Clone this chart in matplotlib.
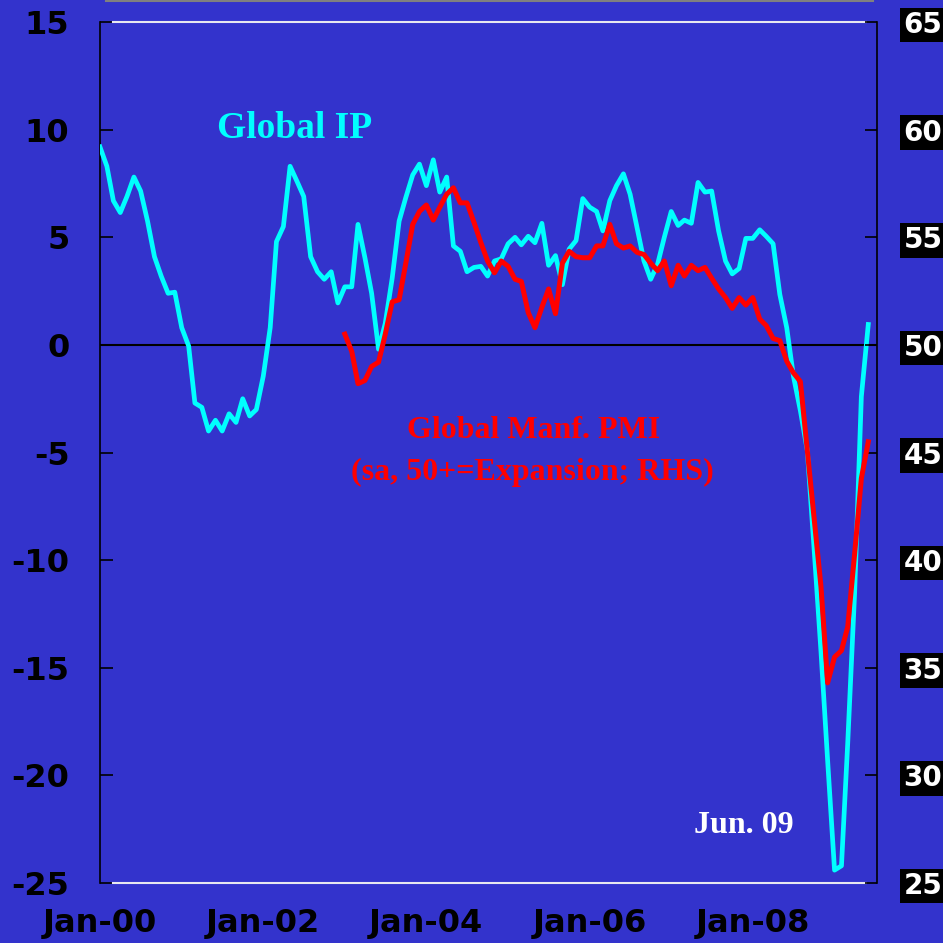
import numpy as np
import pandas as pd
import matplotlib
matplotlib.use('Agg')
import matplotlib.pyplot as plt
import matplotlib.dates as mdates
from matplotlib.lines import Line2D

plt.rcParams['axes.unicode_minus'] = False

# monthly, Jan-2000 .. Jun-2009
months = pd.date_range('2000-01-01', '2009-06-01', freq='MS')

# global industrial production, %oya (LHS)
global_ip = [9.2, 8.3, 6.7, 6.15, 6.9, 7.8, 7.15, 5.75, 4.1, 3.2, 2.4, 2.45,
             0.8, -0.05, -2.7, -2.9, -4.0, -3.5, -4.0, -3.2, -3.6, -2.5, -3.3, -3.0,
             -1.45, 0.8, 4.8, 5.5, 8.3, 7.6, 6.9, 4.1, 3.4, 3.05, 3.4, 1.95,
             2.7, 2.7, 5.6, 4.05, 2.4, -0.2, 1.0, 3.1, 5.75, 6.85, 7.9, 8.4,
             7.4, 8.6, 7.1, 7.8, 4.6, 4.35, 3.4, 3.6, 3.65, 3.2, 3.9, 4.0,
             4.7, 5.0, 4.65, 5.05, 4.75, 5.65, 3.7, 4.15, 2.8, 4.45, 4.85, 6.8,
             6.4, 6.2, 5.3, 6.7, 7.4, 7.95, 7.0, 5.45, 3.9, 3.05, 3.75, 5.0,
             6.2, 5.55, 5.8, 5.65, 7.55, 7.1, 7.15, 5.3, 3.9, 3.3, 3.55, 4.95,
             4.95, 5.35, 5.05, 4.7, 2.35, 0.8, -1.45, -3.05, -4.9, -9.4, -14.2, -19.3,
             -24.4, -24.2, -18.5, -11.5, -2.4, 0.95]

# global manufacturing PMI, sa (RHS), from Jan-2003
pmi_months = pd.date_range('2003-01-01', '2009-06-01', freq='MS')
global_pmi = [50.5, 49.7, 48.2, 48.35, 49.0, 49.2, 50.5, 52.0, 52.1, 53.8, 55.6, 56.2,
              56.5, 55.8, 56.4, 57.0, 57.3, 56.6, 56.6, 55.7, 54.75, 53.9, 53.35, 53.9,
              53.65, 53.05, 52.95, 51.5, 50.8, 51.75, 52.6, 51.45, 53.8, 54.35, 54.1, 54.05,
              54.05, 54.6, 54.6, 55.6, 54.7, 54.5, 54.6, 54.3, 54.2, 53.8, 53.45, 53.9,
              52.75, 53.7, 53.2, 53.7, 53.45, 53.6, 53.1, 52.6, 52.2, 51.7, 52.2, 51.85,
              52.2, 51.2, 50.9, 50.3, 50.2, 49.25, 48.7, 48.3, 45.1, 42.0, 38.8, 34.3,
              35.5, 35.8, 36.9, 40.3, 43.8, 45.5]

left_ticks = [-25, -20, -15, -10, -5, 0, 5, 10, 15]
right_ticks = [25, 30, 35, 40, 45, 50, 55, 60, 65]
x_ticks = pd.to_datetime(['2000-01-01', '2002-01-01', '2004-01-01', '2006-01-01', '2008-01-01'])

bg = '#3333cc'

fig = plt.figure(figsize=(9.43, 9.43), dpi=100, facecolor=bg)
ax = fig.add_axes([0.106, 0.0636, 0.824, 0.913])
ax.set_facecolor(bg)

ax.axhline(0, color='black', lw=1.5, zorder=1)
ax.plot(months, global_ip, color='#00ffff', lw=3.4, zorder=3)

ax.set_xlim(months[0], pd.Timestamp('2009-07-10'))
ax.set_ylim(-25, 15)
ax.set_yticks(left_ticks)
ax.set_xticks(x_ticks)
ax.xaxis.set_major_formatter(mdates.DateFormatter('%b-%y'))

ax.tick_params(axis='y', direction='in', length=9, width=1.2, color='black',
               labelsize=23, pad=22)
ax.tick_params(axis='x', length=0, labelsize=23, pad=18)
for lab in ax.get_yticklabels() + ax.get_xticklabels():
    lab.set_fontweight('bold')
    lab.set_color('black')

for s in ['top', 'bottom', 'right']:
    ax.spines[s].set_visible(False)
ax.spines['left'].set_color('black')
ax.spines['left'].set_linewidth(1.2)

# white frame lines top and bottom
ax.axhline(15, xmin=0.017, xmax=0.986, color='#e8e8f0', lw=1.5, clip_on=False)
ax.axhline(-25, xmin=0.017, xmax=0.986, color='#e8e8f0', lw=1.5, clip_on=False)

ax2 = ax.twinx()
ax2.plot(pmi_months, global_pmi, color='#ff0000', lw=3.6, zorder=4)
ax2.set_ylim(25, 65)
ax2.set_yticks(right_ticks)
ax2.tick_params(axis='y', direction='in', length=9, width=1.2, color='black',
                labelsize=20, pad=19, labelcolor='white')
for lab in ax2.get_yticklabels():
    lab.set_fontweight('bold')
    lab.set_bbox(dict(facecolor='black', edgecolor='none', boxstyle='square,pad=0.12'))
for s in ['top', 'bottom', 'left']:
    ax2.spines[s].set_visible(False)
ax2.spines['right'].set_color('black')
ax2.spines['right'].set_linewidth(1.2)

serif = ['Liberation Serif', 'DejaVu Serif']
ax.text(0.25, 0.876, 'Global IP', transform=ax.transAxes, ha='center', va='center',
        color='#00ffff', fontsize=27, fontweight='bold', family=serif)
ax.text(0.558, 0.526, 'Global Manf. PMI', transform=ax.transAxes, ha='center', va='center',
        color='#ff0000', fontsize=23, fontweight='bold', family=serif)
ax.text(0.557, 0.477, '(sa, 50+=Expansion; RHS)', transform=ax.transAxes, ha='center',
        va='center', color='#ff0000', fontsize=23, fontweight='bold', family=serif)
ax.text(0.829, 0.067, 'Jun. 09', transform=ax.transAxes, ha='center', va='center',
        color='white', fontsize=23, fontweight='bold', family=serif)

# thin grey rule at the very top
fig.add_artist(Line2D([0.112, 0.926], [0.999, 0.999], color='#808080', lw=1.5))

fig.savefig('out.png', dpi=100, facecolor=bg)
